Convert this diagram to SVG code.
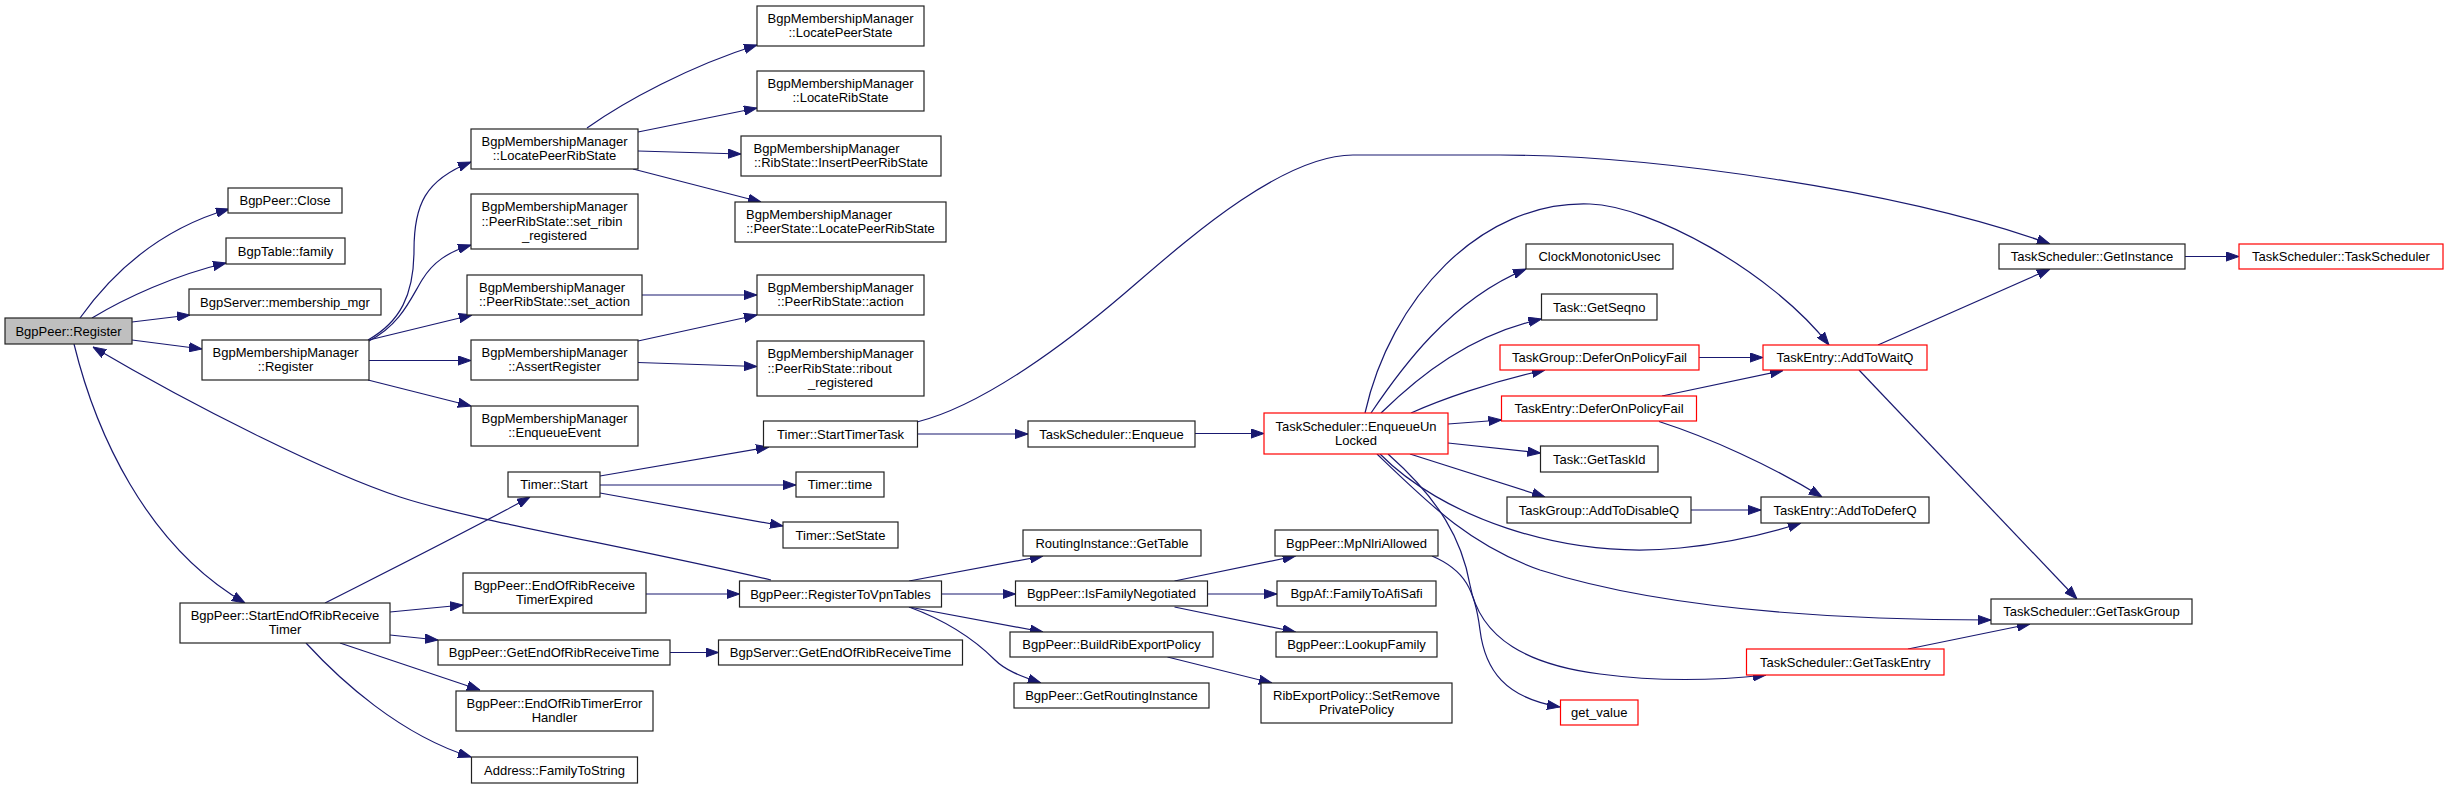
<svg xmlns="http://www.w3.org/2000/svg" width="2448" height="789" viewBox="0 0 2448 789">
<style>
rect{fill:#fff;stroke:#222;stroke-width:1.2}
rect.root{fill:#bfbfbf}
rect.red{stroke:#f00}
text{font-family:"Liberation Sans",Arial,Helvetica,sans-serif;font-size:13px;fill:#000;text-anchor:middle}
text.l{text-anchor:start}
#edges path{fill:none;stroke:#191970;stroke-width:1.2;marker-end:url(#ah)}
</style>
<defs>
<marker id="ah" markerUnits="userSpaceOnUse" markerWidth="13" markerHeight="10" refX="13" refY="5" orient="auto">
<path d="M0,0.4 L13,5 L0,9.6 z" fill="#191970" stroke="#191970" stroke-width="1"/>
</marker>
</defs>
<rect x="0" y="0" width="2448" height="789" style="fill:#fff;stroke:none"/>
<g id="edges">
<path d="M80,318 C105,283 150,232 229,209"/>
<path d="M92,318 C125,298 175,275 226,263"/>
<path d="M132,322 L190,315"/>
<path d="M132,340 L202,349"/>
<path d="M74,344 C95,430 145,545 245,603"/>
<path d="M771,580 C620,545 470,520 400,497 C330,474 200,410 93,347"/>
<path d="M368,340 C400,322 414,295 414,250 C414,205 425,180 471,162"/>
<path d="M369,341 C400,325 410,300 422,280 C433,262 448,252 471,245"/>
<path d="M369,340 L472,315"/>
<path d="M369,360.5 L471,360.5"/>
<path d="M368,380 L471,406"/>
<path d="M587,128 C625,101 690,66 757,45"/>
<path d="M638,132 L757,108"/>
<path d="M638,151 L741,154"/>
<path d="M633,169 L761,202"/>
<path d="M642,295 L757,295"/>
<path d="M638,341 L757,315"/>
<path d="M638,362.5 L757,366.5"/>
<path d="M325,603 C400,565 470,530 530,497"/>
<path d="M390,612 L463,605"/>
<path d="M390,635 L438,640"/>
<path d="M340,643 L480,690"/>
<path d="M306,643 C340,680 400,735 471,757"/>
<path d="M600,476 L769,447"/>
<path d="M600,485 L796,485"/>
<path d="M600,493 L783,526"/>
<path d="M646,594 L739.5,594"/>
<path d="M670,652.5 L718.5,652.5"/>
<path d="M917.5,434 L1028,434"/>
<path d="M917,422 C985,405 1070,340 1125,293 C1180,246 1280,155 1353,155 L1500,155 C1650,155 1900,190 2050,244"/>
<path d="M1195,433.5 L1264,433.5"/>
<path d="M909,581 L1043,556"/>
<path d="M941.5,594 L1015.5,594"/>
<path d="M909,607 L1043,632"/>
<path d="M909,607 C950,622 975,640 995,660 C1005,670 1020,676 1041,683"/>
<path d="M1174.5,581 L1295.5,556"/>
<path d="M1208,594 L1277,594"/>
<path d="M1174.5,607 L1295.5,632"/>
<path d="M1167.5,657 L1272,683"/>
<path d="M1432,556 C1465,570 1475,590 1480,630 C1485,670 1505,698 1560,707"/>
<path d="M1371,413 C1400,370 1450,300 1526,269"/>
<path d="M1381,413 C1420,375 1470,335 1541.5,319"/>
<path d="M1411,413 C1440,400 1490,382 1545,370"/>
<path d="M1448,424 L1501.5,420"/>
<path d="M1448,443 L1540.5,453"/>
<path d="M1410,454 L1545,497"/>
<path d="M1380,454 C1440,515 1560,560 1680,548 C1730,543 1770,533 1801,523"/>
<path d="M1377,454 C1430,505 1470,545 1540,570 C1650,605 1800,620 1991,620"/>
<path d="M1388,454 C1440,500 1462,540 1470,585 C1480,640 1530,665 1600,674 C1660,682 1720,680 1766,675"/>
<path d="M1365,413 C1390,300 1480,200 1590,204 C1650,206 1770,270 1829,345"/>
<path d="M1878,345 L2050,269"/>
<path d="M1859,370 L2077,599"/>
<path d="M1908,649 L2030,624"/>
<path d="M1662,396 L1783,370.5"/>
<path d="M1659,421.5 C1710,438 1770,465 1822,497"/>
<path d="M1698.5,357.5 L1763,357.5"/>
<path d="M1691,510 L1761,510"/>
<path d="M2185,256.5 L2239,256.5"/>
</g>
<g id="n_register"><rect class="root" x="5" y="318" width="127" height="26"/><text x="68.5" y="335.5">BgpPeer::Register</text></g>
<g id="n_close"><rect x="228" y="188" width="114" height="25"/><text x="285" y="205">BgpPeer::Close</text></g>
<g id="n_family"><rect x="226" y="238" width="119" height="26"/><text x="285.5" y="255.5">BgpTable::family</text></g>
<g id="n_mmgr"><rect x="189" y="289" width="192" height="26"/><text x="285" y="306.5">BgpServer::membership_mgr</text></g>
<g id="n_bmm_register"><rect x="202" y="340" width="167" height="40"/><text x="285.5" y="357">BgpMembershipManager</text><text x="285.5" y="371">::Register</text></g>
<g id="n_seort"><rect x="180" y="603" width="210" height="40"/><text x="285" y="620">BgpPeer::StartEndOfRibReceive</text><text x="285" y="634">Timer</text></g>
<g id="n_locatepeerribstate"><rect x="471" y="129" width="167" height="40"/><text x="554.5" y="146">BgpMembershipManager</text><text x="554.5" y="160">::LocatePeerRibState</text></g>
<g id="n_set_ribin"><rect x="471" y="194" width="167" height="55"/><text class="l" x="481.5" y="211">BgpMembershipManager</text><text class="l" x="481.5" y="225.5">::PeerRibState::set_ribin</text><text x="554.5" y="240">_registered</text></g>
<g id="n_set_action"><rect x="467" y="275" width="175" height="40"/><text class="l" x="479" y="292">BgpMembershipManager</text><text x="554.5" y="306">::PeerRibState::set_action</text></g>
<g id="n_assert"><rect x="471" y="340" width="167" height="40"/><text x="554.5" y="357">BgpMembershipManager</text><text x="554.5" y="371">::AssertRegister</text></g>
<g id="n_enqueueevent"><rect x="471" y="406" width="167" height="40"/><text x="554.5" y="423">BgpMembershipManager</text><text x="554.5" y="437">::EnqueueEvent</text></g>
<g id="n_timer_start"><rect x="508" y="472" width="92" height="25"/><text x="554" y="489">Timer::Start</text></g>
<g id="n_expired"><rect x="463" y="573" width="183" height="40"/><text x="554.5" y="590">BgpPeer::EndOfRibReceive</text><text x="554.5" y="604">TimerExpired</text></g>
<g id="n_geteor"><rect x="438" y="640" width="232" height="25"/><text x="554" y="657">BgpPeer::GetEndOfRibReceiveTime</text></g>
<g id="n_errhandler"><rect x="456" y="691" width="197" height="40"/><text x="554.5" y="708">BgpPeer::EndOfRibTimerError</text><text x="554.5" y="722">Handler</text></g>
<g id="n_famtostr"><rect x="471.5" y="757" width="166" height="26"/><text x="554.5" y="774.5">Address::FamilyToString</text></g>
<g id="n_locatepeerstate"><rect x="757" y="6" width="167" height="40"/><text x="840.5" y="23">BgpMembershipManager</text><text x="840.5" y="37">::LocatePeerState</text></g>
<g id="n_locateribstate"><rect x="757" y="71" width="167" height="40"/><text x="840.5" y="88">BgpMembershipManager</text><text x="840.5" y="102">::LocateRibState</text></g>
<g id="n_insertpeerribstate"><rect x="741" y="136" width="200" height="40"/><text class="l" x="753.5" y="153">BgpMembershipManager</text><text x="841" y="167">::RibState::InsertPeerRibState</text></g>
<g id="n_ps_locatepeerribstate"><rect x="735" y="202" width="211" height="40"/><text class="l" x="746" y="219">BgpMembershipManager</text><text x="840.5" y="233">::PeerState::LocatePeerRibState</text></g>
<g id="n_action"><rect x="757" y="275" width="167" height="40"/><text x="840.5" y="292">BgpMembershipManager</text><text x="840.5" y="306">::PeerRibState::action</text></g>
<g id="n_ribout"><rect x="757" y="341" width="167" height="55"/><text class="l" x="767.5" y="358">BgpMembershipManager</text><text class="l" x="767.5" y="372.5">::PeerRibState::ribout</text><text x="840.5" y="387">_registered</text></g>
<g id="n_starttimertask"><rect x="763.5" y="421" width="154" height="26"/><text x="840.5" y="438.5">Timer::StartTimerTask</text></g>
<g id="n_timer_time"><rect x="796" y="472" width="88" height="25"/><text x="840" y="489">Timer::time</text></g>
<g id="n_setstate"><rect x="783" y="522" width="115" height="26"/><text x="840.5" y="539.5">Timer::SetState</text></g>
<g id="n_regvpn"><rect x="739.5" y="581" width="202" height="26"/><text x="840.5" y="598.5">BgpPeer::RegisterToVpnTables</text></g>
<g id="n_server_geteor"><rect x="718.5" y="640" width="244" height="25"/><text x="840.5" y="657">BgpServer::GetEndOfRibReceiveTime</text></g>
<g id="n_enqueue"><rect x="1028" y="421" width="167" height="26"/><text x="1111.5" y="438.5">TaskScheduler::Enqueue</text></g>
<g id="n_gettable"><rect x="1023" y="530" width="178" height="26"/><text x="1112" y="547.5">RoutingInstance::GetTable</text></g>
<g id="n_isfamneg"><rect x="1015.5" y="581" width="192" height="25"/><text x="1111.5" y="598">BgpPeer::IsFamilyNegotiated</text></g>
<g id="n_buildrib"><rect x="1010" y="632" width="203" height="25"/><text x="1111.5" y="649">BgpPeer::BuildRibExportPolicy</text></g>
<g id="n_getri"><rect x="1014" y="683" width="195" height="25"/><text x="1111.5" y="700">BgpPeer::GetRoutingInstance</text></g>
<g id="n_enqueueunlocked"><rect class="red" x="1264" y="413" width="184" height="41"/><text x="1356" y="430.5">TaskScheduler::EnqueueUn</text><text x="1356" y="444.5">Locked</text></g>
<g id="n_mpnlri"><rect x="1275" y="530" width="163" height="26"/><text x="1356.5" y="547.5">BgpPeer::MpNlriAllowed</text></g>
<g id="n_famtoafi"><rect x="1277" y="581" width="159" height="25"/><text x="1356.5" y="598">BgpAf::FamilyToAfiSafi</text></g>
<g id="n_lookupfam"><rect x="1276" y="632" width="161" height="25"/><text x="1356.5" y="649">BgpPeer::LookupFamily</text></g>
<g id="n_setremove"><rect x="1261" y="683" width="191" height="40"/><text x="1356.5" y="700">RibExportPolicy::SetRemove</text><text x="1356.5" y="714">PrivatePolicy</text></g>
<g id="n_clock"><rect x="1526" y="244" width="147" height="25"/><text x="1599.5" y="261">ClockMonotonicUsec</text></g>
<g id="n_getseqno"><rect x="1541.5" y="294" width="115.5" height="26"/><text x="1599.25" y="311.5">Task::GetSeqno</text></g>
<g id="n_tg_defer"><rect class="red" x="1500" y="345" width="199" height="25"/><text x="1599.5" y="362">TaskGroup::DeferOnPolicyFail</text></g>
<g id="n_te_defer"><rect class="red" x="1501.5" y="396" width="195" height="25"/><text x="1599" y="413">TaskEntry::DeferOnPolicyFail</text></g>
<g id="n_gettaskid"><rect x="1540.5" y="446" width="117.5" height="26"/><text x="1599.25" y="463.5">Task::GetTaskId</text></g>
<g id="n_disableq"><rect x="1507" y="497" width="184" height="26"/><text x="1599" y="514.5">TaskGroup::AddToDisableQ</text></g>
<g id="n_getvalue"><rect class="red" x="1560.5" y="700" width="77.5" height="25"/><text x="1599.25" y="717">get_value</text></g>
<g id="n_addtowaitq"><rect class="red" x="1763" y="345" width="164" height="25"/><text x="1845" y="362">TaskEntry::AddToWaitQ</text></g>
<g id="n_addtodeferq"><rect x="1761" y="497" width="168" height="26"/><text x="1845" y="514.5">TaskEntry::AddToDeferQ</text></g>
<g id="n_gettaskentry"><rect class="red" x="1746.5" y="649" width="197.5" height="26"/><text x="1845.25" y="666.5">TaskScheduler::GetTaskEntry</text></g>
<g id="n_getinstance"><rect x="1999" y="244" width="186" height="25"/><text x="2092" y="261">TaskScheduler::GetInstance</text></g>
<g id="n_gettaskgroup"><rect x="1991" y="599" width="201" height="25"/><text x="2091.5" y="616">TaskScheduler::GetTaskGroup</text></g>
<g id="n_taskscheduler"><rect class="red" x="2239" y="244" width="204" height="25"/><text x="2341" y="261">TaskScheduler::TaskScheduler</text></g>
</svg>
